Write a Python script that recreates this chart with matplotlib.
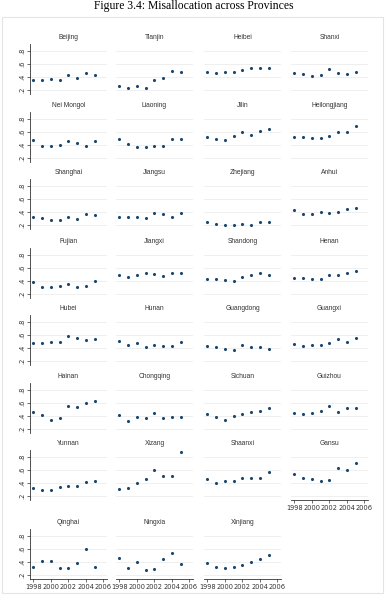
import numpy as np
import matplotlib.pyplot as plt
from matplotlib.patches import Rectangle

years = [1998, 1999, 2000, 2001, 2002, 2003, 2004, 2005]

provinces = ["Beijing", "Tianjin", "Heibei", "Shanxi",
             "Nei Mongol", "Liaoning", "Jilin", "Heilongjiang",
             "Shanghai", "Jiangsu", "Zhejiang", "Anhui",
             "Fujian", "Jiangxi", "Shandong", "Henan",
             "Hubei", "Hunan", "Guangdong", "Guangxi",
             "Hainan", "Chongqing", "Sichuan", "Guizhou",
             "Yunnan", "Xizang", "Shaanxi", "Gansu",
             "Qinghai", "Ningxia", "Xinjiang"]

beijing = [0.354, 0.350, 0.370, 0.350, 0.440, 0.390, 0.470, 0.440]
tianjin = [0.267, 0.236, 0.256, 0.236, 0.359, 0.380, 0.497, 0.472]
heibei = [0.477, 0.467, 0.472, 0.472, 0.508, 0.544, 0.533, 0.544]
shanxi = [0.467, 0.451, 0.420, 0.436, 0.518, 0.460, 0.446, 0.482]
nei_mongol = [0.479, 0.390, 0.390, 0.400, 0.458, 0.430, 0.380, 0.468]
liaoning = [0.500, 0.410, 0.374, 0.368, 0.390, 0.390, 0.490, 0.495]
jilin = [0.526, 0.489, 0.484, 0.542, 0.600, 0.558, 0.621, 0.642]
heilongjiang = [0.521, 0.532, 0.505, 0.505, 0.547, 0.595, 0.605, 0.689]
shanghai = [0.318, 0.303, 0.277, 0.272, 0.323, 0.292, 0.369, 0.354]
jiangsu = [0.323, 0.323, 0.323, 0.308, 0.385, 0.364, 0.328, 0.390]
zhejiang = [0.246, 0.221, 0.195, 0.195, 0.210, 0.200, 0.246, 0.246]
anhui = [0.426, 0.374, 0.369, 0.400, 0.379, 0.400, 0.446, 0.456]
fujian = [0.390, 0.316, 0.310, 0.332, 0.358, 0.316, 0.332, 0.400]
jiangxi = [0.500, 0.468, 0.489, 0.526, 0.505, 0.479, 0.526, 0.532]
shandong = [0.437, 0.426, 0.421, 0.395, 0.458, 0.489, 0.521, 0.489]
henan = [0.447, 0.442, 0.437, 0.432, 0.489, 0.495, 0.532, 0.563]
hubei = [0.479, 0.479, 0.495, 0.489, 0.579, 0.563, 0.526, 0.547]
hunan = [0.516, 0.453, 0.479, 0.421, 0.447, 0.437, 0.437, 0.489]
guangdong = [0.437, 0.411, 0.389, 0.374, 0.442, 0.416, 0.416, 0.389]
guangxi = [0.468, 0.426, 0.453, 0.453, 0.479, 0.547, 0.500, 0.558]
hainan = [0.458, 0.416, 0.347, 0.368, 0.563, 0.537, 0.600, 0.626]
chongqing = [0.416, 0.326, 0.389, 0.368, 0.442, 0.368, 0.379, 0.389]
sichuan = [0.437, 0.384, 0.342, 0.395, 0.437, 0.458, 0.474, 0.521]
guizhou = [0.442, 0.432, 0.453, 0.474, 0.553, 0.458, 0.521, 0.521]
yunnan = [0.321, 0.300, 0.289, 0.347, 0.363, 0.353, 0.416, 0.437]
xizang = [0.305, 0.326, 0.405, 0.468, 0.605, 0.511, 0.511, 0.874]
shaanxi = [0.468, 0.400, 0.432, 0.426, 0.474, 0.484, 0.479, 0.574]
gansu = [0.547, 0.474, 0.468, 0.437, 0.447, 0.632, 0.605, 0.711]
qinghai = [0.332, 0.411, 0.411, 0.305, 0.305, 0.379, 0.595, 0.326]
ningxia = [0.463, 0.305, 0.400, 0.279, 0.295, 0.447, 0.537, 0.374]
xinjiang = [0.379, 0.326, 0.311, 0.326, 0.363, 0.400, 0.447, 0.516]

values = [beijing, tianjin, heibei, shanxi, nei_mongol, liaoning, jilin,
          heilongjiang, shanghai, jiangsu, zhejiang, anhui, fujian, jiangxi,
          shandong, henan, hubei, hunan, guangdong, guangxi, hainan,
          chongqing, sichuan, guizhou, yunnan, xizang, shaanxi, gansu,
          qinghai, ningxia, xinjiang]

xticks = [1998, 2000, 2002, 2004, 2006]
yticks = [0.2, 0.4, 0.6, 0.8]
ytick_labels = [".2", ".4", ".6", ".8"]

W, H = 388, 595
fig = plt.figure(figsize=(W / 100, H / 100), dpi=100)

# light frame round the graph region
fig.patches.append(Rectangle((2 / W, 1 - 593 / H), 381 / W, 576 / H,
                             transform=fig.transFigure, fill=False,
                             edgecolor="#e4e4e4", linewidth=0.8))

fig.text(0.5, 1 - 8.5 / H, "Figure 3.4: Misallocation across Provinces",
         ha="center", va="baseline", fontsize=8.4, family="Liberation Serif")

col_left = [30, 116, 204, 291]
row_top = [44, 112, 179, 248, 315, 383, 450, 529]
ax_w, ax_h = 77, 50
navy = "#1a476f"

n = len(provinces)
for i, (name, vals) in enumerate(zip(provinces, values)):
    r, c = divmod(i, 4)
    left = col_left[c] / W
    bottom = 1 - (row_top[r] + ax_h) / H
    ax = fig.add_axes([left, bottom, ax_w / W, ax_h / H])

    ax.scatter(years, vals, s=5, color=navy, linewidths=0, zorder=3)
    ax.set_xlim(1997.6, 2006.4)
    ax.set_ylim(0.14, 0.91)
    ax.set_yticks(yticks)
    ax.grid(axis="y", color="#ececec", linewidth=0.6)
    ax.set_axisbelow(True)

    for s in ["top", "right"]:
        ax.spines[s].set_visible(False)

    # y axis only on the first column
    if c == 0:
        ax.spines["left"].set_linewidth(0.6)
        ax.spines["left"].set_color("#333333")
        ax.set_yticklabels(ytick_labels, rotation=90, va="center")
        ax.tick_params(axis="y", length=2, width=0.5, labelsize=4.8,
                       pad=1.5, colors="#333333")
    else:
        ax.spines["left"].set_visible(False)
        ax.tick_params(axis="y", length=0, labelleft=False)

    # x axis only where nothing sits below
    if i + 4 >= n:
        ax.set_xticks(xticks)
        ax.spines["bottom"].set_linewidth(0.6)
        ax.spines["bottom"].set_color("#333333")
        ax.tick_params(axis="x", length=2, width=0.5, labelsize=4.8,
                       pad=1.5, colors="#333333")
    else:
        ax.spines["bottom"].set_visible(False)
        ax.set_xticks([])

    ax.set_title(name, fontsize=4.8, color="#333333", pad=3.5,
                 family="Liberation Sans")

fig.savefig("out.png", dpi=100)
